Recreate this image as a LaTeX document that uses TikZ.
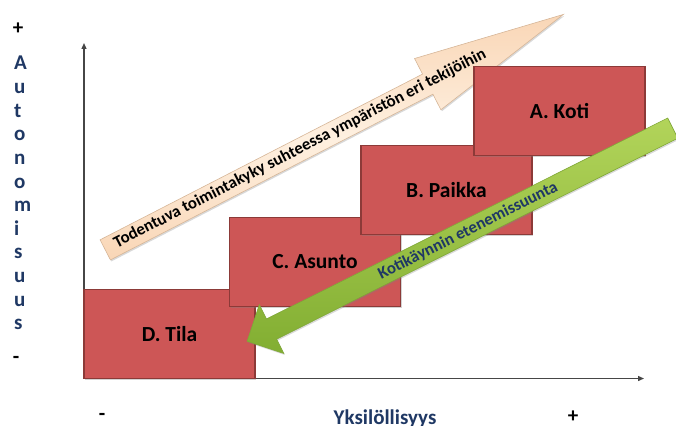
\documentclass[tikz,border=0pt]{standalone}
\usepackage{fontspec}
\setmainfont{Carlito}
\usetikzlibrary{shapes.arrows,arrows.meta,shadows}
\definecolor{boxred}{RGB}{205,86,86}
\definecolor{boxline}{RGB}{140,58,56}
\definecolor{navy}{RGB}{31,56,100}
\definecolor{axisgray}{RGB}{70,70,70}
\definecolor{tanlight}{RGB}{254,240,224}
\definecolor{tanmid}{RGB}{249,214,182}
\definecolor{tanline}{RGB}{214,182,152}
\definecolor{greentop}{RGB}{178,212,90}
\definecolor{greenbot}{RGB}{130,174,50}
\definecolor{greenline}{RGB}{128,168,56}
\begin{document}
\begin{tikzpicture}[x=1pt,y=-1pt,
  stagebox/.style={rectangle, draw=boxline, line width=1.2pt, fill=boxred,
    minimum width=171pt, minimum height=89pt, inner sep=0pt,
    font=\fontsize{21.5}{24}\selectfont\bfseries, text=black,
    drop shadow={shadow xshift=1.2pt, shadow yshift=-1.2pt, opacity=0.35}},
  axisline/.style={draw=axisgray, line width=1.3pt, -{Triangle[length=6pt,width=5pt]}},
  tanarrow/.style={single arrow, draw=tanline, line width=0.6pt, inner xsep=0pt, inner ysep=11pt,
    top color=tanmid, bottom color=tanmid, middle color=tanlight,
    drop shadow={shadow xshift=1pt, shadow yshift=-1.5pt, opacity=0.3}},
  greenarrow/.style={single arrow, draw=greenline, line width=0.6pt, inner xsep=0pt, inner ysep=11pt,
    top color=greentop, bottom color=greenbot,
    drop shadow={shadow xshift=1pt, shadow yshift=-1.5pt, opacity=0.3}},
  arrowtext/.style={font=\fontsize{16.8}{18}\selectfont\bfseries, inner sep=0pt},
  axislbl/.style={font=\fontsize{21}{24}\selectfont\bfseries, text=navy, inner sep=0pt},
  signlbl/.style={font=\fontsize{21}{24}\selectfont\bfseries, text=black, inner sep=0pt}
]
\useasboundingbox (0,0) rectangle (676,425);
% axes
\coordinate (O) at (84,378.5);
\coordinate (ytop) at (84,43);
\coordinate (xend) at (644,378.5);
\draw[axisline] (O) -- (ytop);
\draw[axisline] (O) -- (xend);
% tan arrow (behind boxes)
\node[tanarrow, minimum height=515pt, minimum width=57pt,
  single arrow head extend=17.5pt, single arrow tip angle=21.4,
  rotate=27.2, anchor=tail] (tan) at (105,250) {};
\node[arrowtext, rotate=27.2] (tantext) at (300,149)
  {Todentuva toimintakyky suhteessa ympäristön eri tekijöihin};
% boxes
\node[stagebox] (D) at (169.5,334) {D. Tila};
\node[stagebox] (C) at (315,262) {C. Asunto};
\node[stagebox] (B) at (446.5,190) {B. Paikka};
\node[stagebox] (A) at (559.5,111) {A. Koti};
% green arrow
\node[greenarrow, minimum height=476pt, minimum width=54pt,
  single arrow head extend=16pt, single arrow tip angle=90,
  rotate=206.6, anchor=tail] (green) at (673,128) {};
\node[arrowtext, text=navy, rotate=26.6] (greentext) at (468,231)
  {Kotikäynnin etenemissuunta};
% vertical axis label
\node[signlbl] (yplus) at (18,29) {+};
\foreach \ch [count=\i from 0] in {A,u,t,o,n,o,m,i,s,u,u,s}
  \node[axislbl, anchor=base west] (v\i) at (14,{70+23.6*\i}) {\ch};
\node[signlbl] (yminus) at (16,360) {-};
% horizontal axis label
\node[signlbl] (xminus) at (102,417) {-};
\node[axislbl, anchor=base] (xlbl) at (385,424) {Yksilöllisyys};
\node[signlbl] (xplus) at (573,417) {+};
\end{tikzpicture}
\end{document}
